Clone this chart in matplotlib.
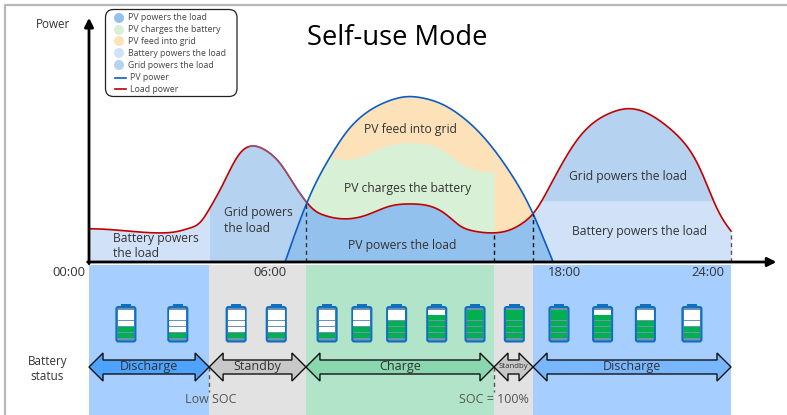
import numpy as np
import matplotlib
matplotlib.use('Agg')
import matplotlib.pyplot as plt
from matplotlib.patches import FancyBboxPatch, Polygon, Rectangle, Circle

plt.rcParams['font.family'] = ['Open Sans', 'DejaVu Sans']

# Curves: hour of day, power in % of the PV peak
load_hours = [0, 0.41, 1.42, 2.65, 3.40, 3.78, 4.15, 4.52, 4.90, 5.27, 5.64, 6.13, 6.65, 7.14, 7.63, 8.15,
              8.45, 8.75, 9.64, 10.39, 11.25, 12.0, 12.86, 13.38, 13.87, 14.36, 15.10, 15.74, 16.22, 16.6,
              16.97, 17.35, 17.72, 18.24, 18.84, 19.48, 20.22, 20.86, 21.46, 22.09, 22.58, 22.95, 23.33,
              23.70, 24]
load_power = [20.2, 20, 18.8, 17.6, 18.8, 20.6, 23.6, 32.7, 43.6, 55.8, 66.1, 70.5, 67.3, 60, 47.9, 35.8,
              30.9, 28.5, 26.1, 28.5, 33.9, 35.2, 33.3, 28.5, 21.8, 18.8, 17.6, 19.4, 23.6, 29.1,
              38.2, 49.7, 60.6, 73.9, 84.2, 90.3, 93, 90.3, 84.2, 75.2, 64.8, 52.7, 37.6,
              25.5, 18.8]
pv_hours = [7.33, 8.07, 8.52, 9.01, 9.50, 10.02, 10.62, 11.25, 12.0, 12.37, 13.12, 13.87, 14.62, 15.10,
            15.74, 16.22, 16.6, 16.97, 17.35]
pv_power = [0, 33.3, 49.7, 63.6, 76.4, 86.1, 93.3, 98, 100.5, 99.8, 96.4, 89.1, 78.2, 69.1,
            54.5, 41.8, 29.7, 15.2, 0]
charge_hours = [9.01, 9.50, 10.13, 10.88, 11.63, 12.37, 13.01, 13.61, 14.13, 14.62, 15.12]
charge_top = [63.6, 62.4, 63.6, 69.1, 72.1, 72.1, 69.7, 63, 57.6, 55.2, 54.5]
battery_limit_evening = 37

# Battery status along the day
status_edges = [0, 4.49, 8.11, 15.14, 16.6, 24]
status_names = ['Discharge', 'Standby', 'Charge', 'Standby', 'Discharge']
battery_hours = [1.38, 3.32, 5.5, 7.0, 8.9, 10.2, 11.5, 13.0, 14.43, 15.9, 17.57, 19.2, 20.8, 22.54]
battery_cells = [2, 1, 1, 1, 1, 2, 3, 4, 5, 5, 5, 4, 3, 2]

legend_areas = ['PV powers the load', 'PV charges the battery', 'PV feed into grid',
                'Battery powers the load', 'Grid powers the load']
legend_lines = ['PV power', 'Load power']

c_pv_load = '#92C1EE'
c_pv_batt = '#D7F0D6'
c_pv_grid = '#FDE1B9'
c_batt = '#D1E2F8'
c_grid = '#B5D3F0'
c_text = '#333333'

HOUR_PX = 26.75
POWER_PX = 1.65
X0, Y0 = 89, 262


def smooth(xs, ys, grid):
    # natural cubic spline through the read points, only to round the drawn curve
    xs = np.array(xs, float)
    ys = np.array(ys, float)
    h = np.diff(xs)
    A = np.zeros((len(xs), len(xs)))
    b = np.zeros(len(xs))
    A[0, 0] = A[-1, -1] = 1
    for k in range(1, len(xs) - 1):
        A[k, k - 1:k + 2] = h[k - 1], 2 * (h[k - 1] + h[k]), h[k]
        b[k] = 6 * ((ys[k + 1] - ys[k]) / h[k] - (ys[k] - ys[k - 1]) / h[k - 1])
    m = np.linalg.solve(A, b)
    i = np.clip(np.searchsorted(xs, grid) - 1, 0, len(xs) - 2)
    u = grid - xs[i]
    v = xs[i + 1] - grid
    return (m[i] * v**3 + m[i + 1] * u**3) / (6 * h[i]) + (ys[i] / h[i] - m[i] * h[i] / 6) * v \
        + (ys[i + 1] / h[i] - m[i + 1] * h[i] / 6) * u


def soften(y, n=41):
    # takes out the wobble left by reading the points by eye
    kernel = np.hanning(n)
    kernel = kernel / kernel.sum()
    pad = np.r_[2 * y[0] - y[n:0:-1], y, 2 * y[-1] - y[-2:-n - 2:-1]]
    return np.convolve(pad, kernel, mode='same')[n:-n]


def hx(h):
    return X0 + h * HOUR_PX


def to_hour(px):
    return (px - X0) / HOUR_PX


def to_power(py):
    return (Y0 - py) / POWER_PX


fig = plt.figure(figsize=(7.87, 4.15), dpi=100)

# data layer
ap = fig.add_axes([0, 0, 1, 1])
ap.set_xlim(to_hour(0), to_hour(787))
ap.set_ylim(to_power(415), to_power(0))
ap.axis('off')

# pixel layer for labels and decoration
ax = fig.add_axes([0, 0, 1, 1])
ax.set_xlim(0, 787)
ax.set_ylim(415, 0)
ax.axis('off')

t = np.linspace(0, 24, 2401)
load = soften(smooth(load_hours, load_power, t), 61)
sun = (t >= pv_hours[0]) & (t <= pv_hours[-1])
pv = np.zeros_like(t)
pv[sun] = soften(smooth(pv_hours, pv_power, t[sun]), 121)
pv = np.maximum(pv, 0)
top = np.full_like(t, 1000.0)
day = (t >= charge_hours[0]) & (t <= charge_hours[-1])
top[day] = soften(smooth(charge_hours, charge_top, t[day]))

# status bands under the axis
band_colors = ['#A6CFFF', '#E2E2E2', '#B2E4C9', '#E2E2E2', '#A6CFFF']
for a, b, c in zip(status_edges[:-1], status_edges[1:], band_colors):
    ap.axvspan(a, b, ymin=0, ymax=(415 - 265) / 415, color=c, lw=0)

# energy areas
m = t <= status_edges[1]
ap.fill_between(t, 0, load, where=m, color=c_batt, lw=0)
m = (t >= status_edges[1]) & (t <= status_edges[2])
ap.fill_between(t, 0, load, where=m, color=c_grid, lw=0)
m = t >= status_edges[4]
ap.fill_between(t, 0, np.minimum(load, battery_limit_evening), where=m, color=c_batt, lw=0)
ap.fill_between(t, battery_limit_evening, np.maximum(load, battery_limit_evening), where=m, color=c_grid, lw=0)
m = (t >= status_edges[2]) & (t <= status_edges[4])
ap.fill_between(t, load, pv, where=m, color=c_pv_grid, lw=0)
m = (t >= status_edges[2]) & (t <= status_edges[3])
ap.fill_between(t, load, np.minimum(pv, top), where=m, color=c_pv_batt, lw=0)
ap.fill_between(t, 0, np.minimum(pv, load), where=sun, color=c_pv_load, lw=0)

# curves
ap.plot(t, load, color='#C00000', lw=1.2)
m = (t >= 6.0) & (t <= 8.11)
ap.plot(t[m], load[m], color='#7F7FB0', lw=1.2, alpha=0.6)
ap.plot(t[sun], pv[sun], color='#0F5BC4', lw=1.2)

# dashed guides
for h, c in [(status_edges[2], '#333333'), (status_edges[3], '#111111'),
             (status_edges[4], '#111111'), (status_edges[5], '#555555')]:
    ap.plot([h, h], [0, np.interp(h, t, load)], color=c, lw=1, ls=(0, (3, 2.5)))
for h in [status_edges[1], status_edges[3]]:
    ax.plot([hx(h), hx(h)], [367, 392], color='#555555', lw=1, ls=(0, (3, 2.5)), zorder=1)

# arrows of the two axes
ap.annotate('', xy=(25.7, 0), xytext=(-0.05, 0),
            arrowprops=dict(arrowstyle='-|>', color='black', lw=2, shrinkA=0, shrinkB=0, mutation_scale=13))
ap.annotate('', xy=(0, 148), xytext=(0, -1),
            arrowprops=dict(arrowstyle='-|>', color='black', lw=2, shrinkA=0, shrinkB=0, mutation_scale=13))

# outer frame
ax.plot([5, 5, 787], [415, 5, 5], color='#B8B8B8', lw=1.6)


def battery(cx, n):
    ax.add_patch(FancyBboxPatch((cx - 9.5, 307), 19, 34.5, boxstyle='round,pad=0,rounding_size=2',
                                fc='#6F93B5', ec='#0F70C0', lw=1.5, zorder=3))
    ax.add_patch(Rectangle((cx - 5.3, 304), 10.6, 4, fc='#0F70C0', lw=0, zorder=3))
    for k in range(5):
        y = 332.8 - k * 5.8
        ax.add_patch(Rectangle((cx - 8.4, y), 16.8, 4.9, fc='#00B050' if k < n else 'white', lw=0, zorder=4))


for h, n in zip(battery_hours, battery_cells):
    battery(hx(h), n)


def double_arrow(x0, x1, c, head=14):
    y = 367
    pts = [(x0, y), (x0 + head, y - 14), (x0 + head, y - 7), (x1 - head, y - 7), (x1 - head, y - 14),
           (x1, y), (x1 - head, y + 14), (x1 - head, y + 7), (x0 + head, y + 7), (x0 + head, y + 14)]
    ax.add_patch(Polygon(pts, closed=True, fc=c, ec='#111111', lw=1.0, zorder=3))


arrow_colors = ['#4DA3FF', '#C8C8C8', '#8AD6AE', '#C8C8C8', '#78B7FF']
name_size = [9, 9, 9, 5.6, 9]
for i, name in enumerate(status_names):
    a, b = hx(status_edges[i]), hx(status_edges[i + 1])
    double_arrow(a, b, arrow_colors[i])
    ax.text((a + b) / 2, 366.5, name, ha='center', va='center', fontsize=name_size[i], color=c_text, zorder=5)

# legend box
ax.add_patch(FancyBboxPatch((105.5, 9.5), 131.5, 87, boxstyle='round,pad=0,rounding_size=8',
                            fc='white', ec='#222222', lw=0.9, zorder=5))
for name, y, c in zip(legend_areas, [18, 30, 41, 53, 65], [c_pv_load, c_pv_batt, c_pv_grid, c_batt, c_grid]):
    ax.add_patch(Circle((119, y), 5, fc=c, lw=0, zorder=6))
    ax.text(128.5, y, name, ha='left', va='center', fontsize=6.3, color='#444444', zorder=6)
for name, y, c in zip(legend_lines, [78, 89], ['#0F5BC4', '#C00000']):
    ax.plot([115, 126], [y, y], color=c, lw=1.2, zorder=6)
    ax.text(130.5, y, name, ha='left', va='center', fontsize=6.3, color='#444444', zorder=6)

# text
ax.text(397.5, 38, 'Self-use Mode', ha='center', va='center', fontsize=19.7, color='black')
ax.text(53, 24, 'Power', ha='center', va='center', fontsize=8.4, color=c_text)
ax.text(47.5, 361, 'Battery', ha='center', va='center', fontsize=8.4, color=c_text)
ax.text(47.5, 376, 'status', ha='center', va='center', fontsize=8.4, color=c_text)
for s, x in [('00:00', 69), ('06:00', 270), ('18:00', 564), ('24:00', 708)]:
    ax.text(x, 272, s, ha='center', va='center', fontsize=9.4, color=c_text)

for s, x, y in [('PV feed into grid', 410, 129), ('PV charges the battery', 408, 188),
                ('PV powers the load', 402, 245), ('Grid powers the load', 628, 176),
                ('Battery powers the load', 639, 231)]:
    ax.text(x, y, s, ha='center', va='center', fontsize=8.75, color=c_text)
for s, x, y in [('Battery powers', 113, 238), ('the load', 113, 253), ('Grid powers', 224, 212), ('the load', 224, 228)]:
    ax.text(x, y, s, ha='left', va='center', fontsize=8.75, color=c_text)
ax.text(211, 399, 'Low SOC', ha='center', va='center', fontsize=9, color='#555555')
ax.text(494, 399, 'SOC = 100%', ha='center', va='center', fontsize=9, color='#555555')

fig.savefig('out.png', dpi=100)
